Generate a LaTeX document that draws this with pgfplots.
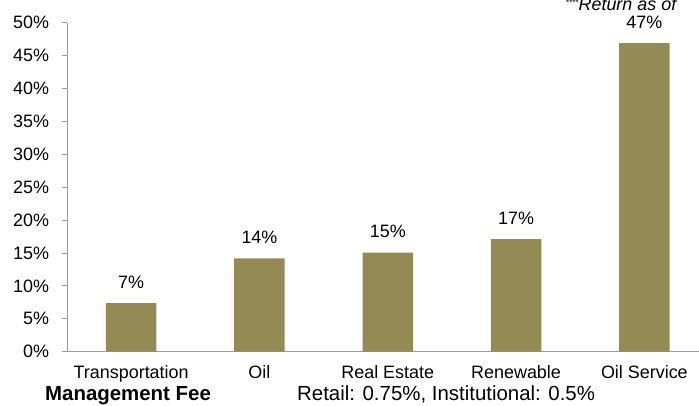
\documentclass[border=0pt]{standalone}
\usepackage{pgfplots}
\pgfplotsset{compat=1.18}
\usepackage{fontspec}
\setmainfont{Liberation Sans}
\definecolor{barcol}{RGB}{148,138,84}
\definecolor{axcol}{RGB}{155,155,155}
\begin{document}
\begin{tikzpicture}[x=1bp,y=1bp]
\useasboundingbox (0,0) rectangle (699,405);
\clip (0,0) rectangle (699,405);
\begin{axis}[
  at={(67bp,53.3bp)}, anchor=south west,
  scale only axis, width=641.5bp, height=329bp,
  xmin=-0.5, xmax=4.5, ymin=0, ymax=50,
  axis x line*=bottom, axis y line*=left,
  axis line style={axcol, line width=1bp},
  tick align=outside,
  major tick length=5bp, minor tick length=5bp,
  every tick/.style={axcol, line width=1bp},
  ytick={0,5,...,50},
  yticklabel={\pgfmathprintnumber{\tick}\%},
  xtick={0,1,2,3,4},
  xticklabels={Transportation,Oil,Real Estate,Renewable,Oil Service},
  x tick style={draw=none},
  minor xtick={-0.5,0.5,1.5,2.5,3.5,4.5},
  minor x tick style={axcol, line width=1bp},
  /pgf/number format/assume math mode=true,
  tick label style={font=\fontsize{18}{20}\selectfont, text=black},
  yticklabel style={inner sep=0pt, xshift=-12.7bp},
  xticklabel style={inner sep=0pt, anchor=base, yshift=-21.6bp},
  ybar, bar width=50.5bp,
  nodes near coords={\pgfmathprintnumber[fixed,precision=0]{\pgfplotspointmeta}\%},
  every node near coord/.append style={font=\fontsize{18}{20}\selectfont, inner sep=0pt, yshift=14.3bp, text=black},
  clip=false,
]
\addplot[fill=barcol, draw=none] coordinates {(0,7.4) (1,14.2) (2,15.05) (3,17.1) (4,46.9)};
\end{axis}
\node[anchor=base west, inner sep=0pt, font=\fontsize{20.5}{22}\selectfont\bfseries] at (45,4.5) {Management Fee};
\node[anchor=base west, inner sep=0pt, font=\fontsize{20.5}{22}\selectfont] at (297,4.5) {Retail: 0.75\%, Institutional: 0.5\%};
\node[anchor=base west, inner sep=0pt] at (566,394.5) {{\fontsize{8}{8}\selectfont\raisebox{5bp}{****}}{\fontsize{18}{20}\selectfont\itshape Return as of}};
\end{tikzpicture}
\end{document}
